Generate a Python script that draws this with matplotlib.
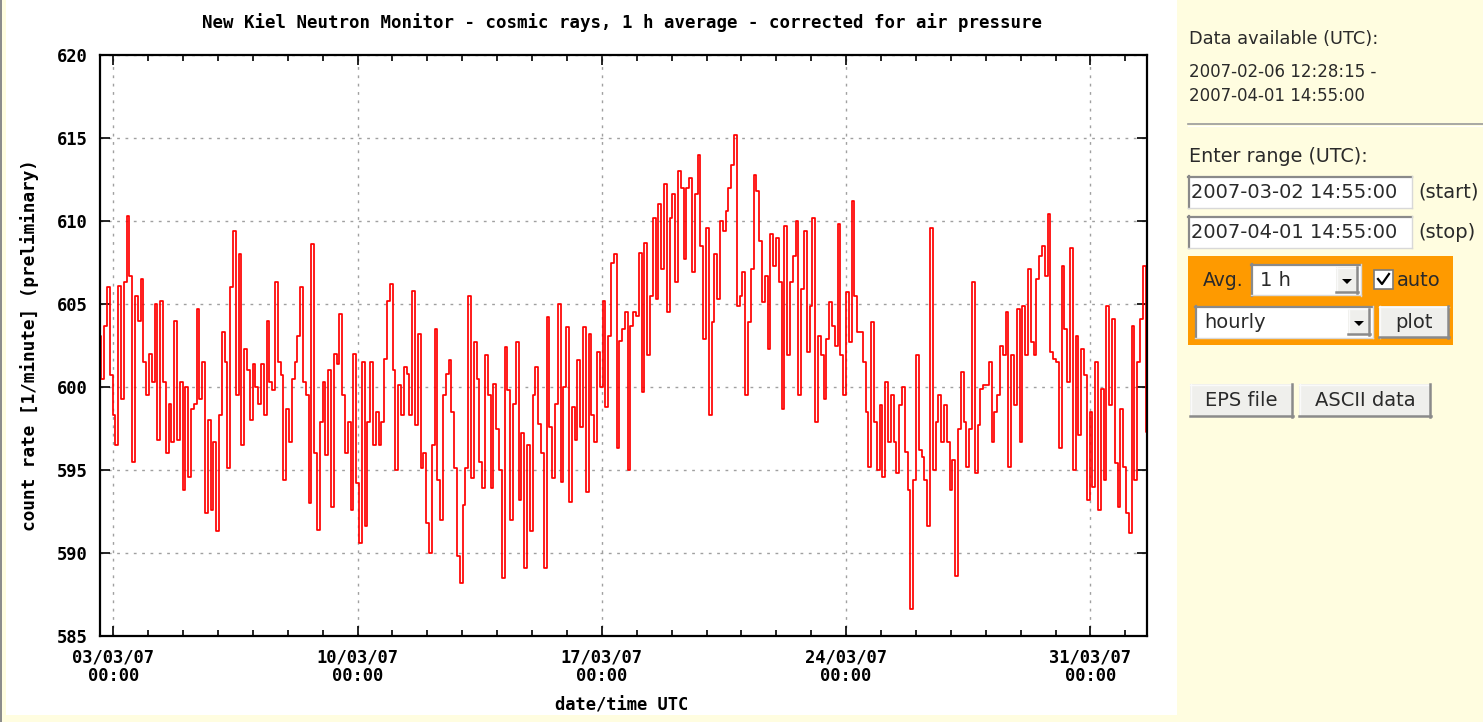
import numpy as np
import matplotlib
matplotlib.use('Agg')
import matplotlib.pyplot as plt
from matplotlib.patches import Rectangle, Polygon
from matplotlib.lines import Line2D
from matplotlib.ticker import MultipleLocator

W, H = 1483, 722

# count rate [1/min], 1 h average (~2 h spacing)
# from 2007-03-02 14:55 to 2007-04-01 14:55
count_rate = [
    603.1, 600.5, 603.7, 606.0, 600.7, 598.3, 596.5, 606.1, 599.3, 606.3, 610.3, 606.7,
    595.5, 605.5, 604.0, 606.5, 601.5, 599.5, 602.0, 600.3, 605.0, 596.8, 605.2, 600.3,
    596.0, 599.0, 596.7, 604.0, 596.8, 600.3, 593.8, 600.0, 594.6, 598.7, 599.0, 604.7,
    599.3, 601.5, 592.4, 598.0, 592.6, 596.7, 591.3, 598.3, 603.3, 601.5, 595.1, 606.0,
    609.4, 599.5, 608.0, 596.5, 602.3, 601.0, 598.0, 601.4, 600.0, 599.0, 601.4, 598.3,
    604.0, 600.3, 599.8, 606.3,
    601.5, 600.7, 594.4, 598.7, 596.7, 600.5, 601.5, 603.1, 606.0, 600.3, 599.5, 593.0,
    608.6, 596.0, 591.4, 597.9, 600.3, 595.9, 601.0, 592.8, 602.0, 601.4, 604.4, 599.5,
    596.0, 597.9, 592.6, 602.0, 594.2, 590.6, 601.5, 591.6, 597.9, 601.5, 596.5, 598.5,
    596.5, 597.9, 601.7, 605.2, 606.2, 601.0, 595.0, 600.1, 598.3, 601.2, 600.8, 598.3,
    605.8, 597.7, 603.2, 595.1, 596.0, 591.8, 590.0, 596.5, 603.5, 594.4, 592.0, 599.5,
    600.8, 601.6,
    598.5, 595.1, 589.8, 588.2, 592.9, 595.1, 605.5, 594.5, 602.7, 600.5, 595.5, 593.9,
    601.9, 599.5, 593.9, 600.2, 597.5, 595.0, 588.5, 602.4, 599.8, 592.0, 599.0, 602.7,
    593.2, 597.2, 589.1, 596.5, 591.3, 599.5, 601.2, 597.8, 596.0, 589.1, 604.2, 597.6,
    594.5, 599.0, 605.0, 594.3, 600.0, 603.6, 593.1, 598.8, 596.8, 601.6, 597.6, 603.6,
    593.7, 603.2, 598.3, 596.7, 602.1, 600.0, 605.2, 598.8, 603.1, 607.5, 608.0, 596.3,
    602.8, 603.5,
    604.5, 595.0, 603.7, 604.5, 604.3, 608.1, 599.7, 608.7, 601.9, 605.5, 610.2, 605.3,
    611.0, 607.1, 612.2, 604.5, 610.2, 611.6, 606.3, 613.0, 612.0, 607.7, 612.0, 612.6,
    606.9, 611.6, 614.0, 608.5, 602.9, 609.6, 598.3, 603.9, 608.0, 605.3, 610.0, 609.4,
    610.6, 612.0, 613.4, 615.2, 604.9, 605.5, 606.9, 599.5, 603.9, 607.1, 612.8, 611.8,
    608.8, 605.1, 606.7, 602.3, 609.2, 607.3, 609.0, 606.3, 598.7, 609.7, 601.9, 606.3,
    607.9, 610.0,
    599.5, 605.9, 609.4, 602.1, 604.9, 610.2, 597.9, 603.1, 601.9, 599.3, 602.9, 605.1,
    603.7, 602.5, 609.8, 601.9, 599.5, 605.7, 602.7, 611.2, 605.5, 603.3, 603.3, 601.5,
    598.5, 595.2, 603.9, 597.9, 595.0, 598.9, 594.6, 600.3, 596.7, 599.5, 596.7, 594.8,
    598.9, 600.0, 596.1, 593.8, 586.6, 594.4, 601.9, 596.2, 595.8, 594.4, 591.6, 609.6,
    595.0, 597.9, 599.5, 596.7, 598.9, 596.7, 593.8, 595.6, 588.6, 597.5, 600.9, 597.9,
    595.2, 597.5,
    606.3, 594.8, 597.7, 599.9, 600.1, 600.1, 601.5, 596.7, 598.5, 599.5, 602.5, 601.9,
    604.5, 595.2, 601.9, 598.9, 604.7, 596.7, 604.9, 601.9, 607.1, 602.7, 601.9, 606.5,
    607.9, 608.5, 606.7, 610.4, 602.1, 601.7, 601.5, 596.3, 607.3, 603.5, 600.3, 608.4,
    595.0, 603.1, 597.1, 602.3, 600.7, 593.2, 598.5, 594.0, 601.5, 592.6, 599.9, 594.4,
    604.9, 598.9, 604.1, 595.4, 592.8, 598.7, 595.2, 592.4, 591.2, 603.7, 594.4, 601.5,
    604.1, 607.3, 597.3,
]

# time in days relative to 03/03/07 00:00
t_start = -(9 + 5 / 60) / 24
t_stop = 29 + (14 + 55 / 60) / 24

x_ticks = [0, 7, 14, 21, 28]
x_tick_labels = ['03/03/07\n00:00', '10/03/07\n00:00', '17/03/07\n00:00',
                 '24/03/07\n00:00', '31/03/07\n00:00']
y_ticks = [585, 590, 595, 600, 605, 610, 615, 620]

title = 'New Kiel Neutron Monitor - cosmic rays, 1 h average - corrected for air pressure'
x_label = 'date/time UTC'
y_label = 'count rate [1/minute] (preliminary)'

data_available = ['Data available (UTC):', '2007-02-06 12:28:15 -', '2007-04-01 14:55:00']
range_start = '2007-03-02 14:55:00'
range_stop = '2007-04-01 14:55:00'

YELLOW = '#fffde0'
ORANGE = '#fe9a00'
BTN = '#efefec'
TXT = '#2a2a2a'
MONO = 'DejaVu Sans Mono'
SANS = 'DejaVu Sans'

fig = plt.figure(figsize=(W / 100, H / 100), dpi=100, facecolor=YELLOW)


def box(x0, y0, x1, y1, **kw):
    # pixel coords, origin top-left
    r = Rectangle((x0 / W, 1 - y1 / H), (x1 - x0) / W, (y1 - y0) / H,
                  transform=fig.transFigure, **kw)
    fig.add_artist(r)
    return r


def hline(x0, x1, y, **kw):
    fig.add_artist(Line2D([x0 / W, x1 / W], [1 - y / H, 1 - y / H],
                          transform=fig.transFigure, **kw))


def vline(x, y0, y1, **kw):
    fig.add_artist(Line2D([x / W, x / W], [1 - y0 / H, 1 - y1 / H],
                          transform=fig.transFigure, **kw))


def txt(x, y, s, **kw):
    kw.setdefault('va', 'center')
    kw.setdefault('color', TXT)
    kw.setdefault('family', SANS)
    kw.setdefault('fontsize', 13)
    fig.text(x / W, 1 - y / H, s, **kw)


def sunken(x0, y0, x1, y1, face='white'):
    box(x0, y0, x1, y1, facecolor=face, edgecolor='none', zorder=2)
    hline(x0, x1, y0 + 1, color='#8a8a8a', lw=1.6, zorder=3)
    vline(x0 + 1, y0, y1, color='#8a8a8a', lw=1.6, zorder=3)
    hline(x0, x1, y1 - 0.5, color='#d8d8d8', lw=1.0, zorder=3)
    vline(x1 - 0.5, y0, y1, color='#d8d8d8', lw=1.0, zorder=3)


def raised(x0, y0, x1, y1, face=BTN):
    box(x0, y0, x1, y1, facecolor=face, edgecolor='none', zorder=4)
    hline(x0, x1, y0 + 0.5, color='#fafafa', lw=1.0, zorder=5)
    vline(x0 + 0.5, y0, y1, color='#fafafa', lw=1.0, zorder=5)
    hline(x0, x1, y1 - 1, color='#8a8a8a', lw=1.8, zorder=5)
    vline(x1 - 1, y0, y1, color='#8a8a8a', lw=1.8, zorder=5)


def arrow(xc, yc):
    fig.add_artist(Polygon([((xc - 5) / W, 1 - (yc - 2) / H), ((xc + 5) / W, 1 - (yc - 2) / H),
                            (xc / W, 1 - (yc + 3) / H)], closed=True,
                           transform=fig.transFigure, facecolor='black',
                           edgecolor='none', zorder=6))


# page background: white plot frame on the yellow page
box(6, 0, 1177, 715, facecolor='white', edgecolor='none', zorder=-5)
box(0, 0, 2, 722, facecolor='#8c8c8c', edgecolor='none', zorder=-4)

# ---------------- plot ----------------
ax = fig.add_axes([100 / W, 1 - 636 / H, (1147 - 100) / W, (636 - 55) / H])
ax.set_facecolor('white')
t = np.linspace(t_start, t_stop, len(count_rate))
ax.plot(t, count_rate, drawstyle='steps-mid', color='#ff0000', lw=1.25)

ax.set_xlim(t_start, t_stop)
ax.set_ylim(585, 620)
ax.set_xticks(x_ticks)
ax.set_xticklabels(x_tick_labels, linespacing=1.05)
ax.xaxis.set_minor_locator(MultipleLocator(1))
ax.set_yticks(y_ticks)
ax.grid(True, which='major', color='#a0a0a0', linestyle=(0, (2, 4)), lw=1.0)
ax.tick_params(which='both', direction='in', top=True, right=True, width=1.2, colors='black')
ax.tick_params(which='major', length=7)
ax.tick_params(which='minor', length=4)
ax.tick_params(axis='y', pad=9)
ax.tick_params(axis='x', pad=9)
for lab in ax.get_xticklabels() + ax.get_yticklabels():
    lab.set_family(MONO)
    lab.set_fontweight('bold')
    lab.set_fontsize(12.3)
for sp in ax.spines.values():
    sp.set_linewidth(1.6)
    sp.set_color('black')

txt(622, 23, title, ha='center', family=MONO, fontweight='bold', fontsize=12.5, color='black')
txt(622, 705, x_label, ha='center', family=MONO, fontweight='bold', fontsize=12.3, color='black')
txt(30, 345, y_label, ha='center', rotation=90, family=MONO, fontweight='bold',
    fontsize=12.8, color='black')

# ---------------- form panel ----------------
txt(1189, 39, data_available[0], fontsize=12.8)
txt(1189, 72, data_available[1], fontsize=12)
txt(1189, 96, data_available[2], fontsize=12)
hline(1188, 1483, 124, color='#9a9a9a', lw=1.2)
hline(1188, 1483, 125.5, color='#ffffff', lw=0.8)
txt(1189, 157, 'Enter range (UTC):', fontsize=13.8)

sunken(1188, 176, 1412, 208)
txt(1191, 192, range_start, fontsize=14, zorder=7)
txt(1418, 192, '(start)', fontsize=14)
sunken(1188, 216, 1412, 248)
txt(1191, 233, range_stop, fontsize=14, zorder=7)
txt(1418, 233, '(stop)', fontsize=14)

box(1188, 256, 1453, 345, facecolor=ORANGE, edgecolor='none', zorder=1)
txt(1203, 280, 'Avg.', fontsize=13.5)
sunken(1251, 264, 1361, 296)
txt(1260, 280, '1 h', fontsize=14, zorder=7)
raised(1336, 267, 1358, 293)
arrow(1347, 281)

box(1374, 270, 1393, 289, facecolor='white', edgecolor='#7a7a7a', lw=1.2, zorder=3)
fig.add_artist(Line2D([1378 / W, 1382 / W, 1389 / W],
                      [1 - 279 / H, 1 - 284 / H, 1 - 274 / H],
                      transform=fig.transFigure, color='black', lw=1.6, zorder=6))
txt(1397, 280, 'auto', fontsize=14)

sunken(1195, 306, 1373, 338)
txt(1204, 322, 'hourly', fontsize=14, zorder=7)
raised(1348, 309, 1370, 335)
arrow(1359, 323)
raised(1379, 306, 1449, 338)
txt(1414, 322, 'plot', ha='center', fontsize=14, zorder=7)

raised(1190, 384, 1293, 417)
txt(1241, 400, 'EPS file', ha='center', fontsize=14, zorder=7)
raised(1299, 384, 1431, 417)
txt(1365, 400, 'ASCII data', ha='center', fontsize=14, zorder=7)

fig.savefig('out.png', dpi=100, facecolor=YELLOW)
